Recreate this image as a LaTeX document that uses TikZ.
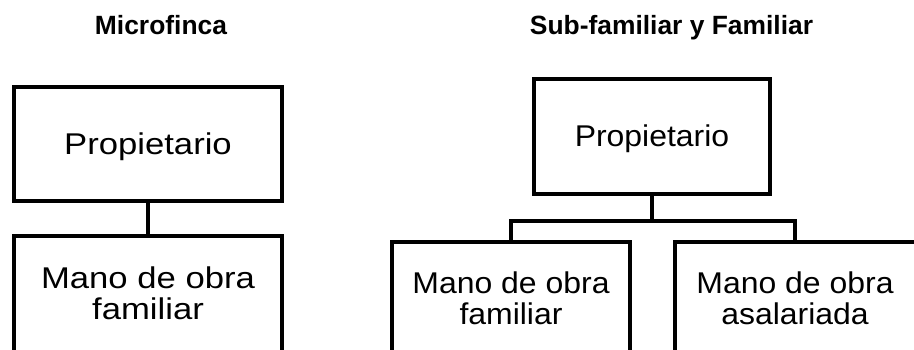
\documentclass[tikz,border=0pt]{standalone}
\usepackage{graphicx}
\usepackage{fontspec}
\setmainfont{Liberation Sans}
\newcommand\lsx[1]{\scalebox{1.155}[1]{#1}}
\newcommand\rsx[1]{\scalebox{1.065}[1]{#1}}
\tikzset{
  box/.style={draw, line width=4pt, inner sep=0pt},
  conn/.style={line width=4pt},
  lab/.style={inner sep=0pt, align=center, font=\fontsize{30}{31}\selectfont},
  ttl/.style={inner sep=0pt, anchor=base, font=\fontsize{26.4}{28}\selectfont\bfseries}
}
\begin{document}
\begin{tikzpicture}[x=1pt,y=-1pt]
\useasboundingbox (0,0) rectangle (914,350);
\clip (0,0) rectangle (914,350);
% titles
\node[ttl] (t1) at (161,34.5) {Microfinca};
\node[ttl] (t2) at (671.5,35) {Sub-familiar y Familiar};
% left chart
\node[box, minimum width=268pt, minimum height=114pt] (lp) at (148,144) {};
\node[lab] (lpt) at (148,146.5) {\lsx{Propietario}};
\node[box, minimum width=268pt, minimum height=140pt] (lf) at (148,306) {};
\node[lab] (lft) at (148,293.5) {\lsx{Mano de obra}\\\lsx{familiar}};
\draw[conn] (lp.south) -- (lf.north);
% right chart
\node[box, minimum width=236pt, minimum height=115pt] (rp) at (652,136.5) {};
\node[lab] (rpt) at (652,138.5) {\rsx{Propietario}};
\node[box, minimum width=238pt, minimum height=140pt] (rf) at (511,312) {};
\node[lab] (rft) at (511,298) {\rsx{Mano de obra}\\\rsx{familiar}};
\node[box, minimum width=256pt, minimum height=140pt] (ra) at (803,312) {};
\node[lab] (rat) at (795,298) {\rsx{Mano de obra}\\\rsx{asalariada}};
\coordinate (raTop) at ([xshift=-8pt]ra.north);
\draw[conn] (rp.south) -- ++(0,25) coordinate (j);
\draw[conn] (rf.north) |- (j) -| (raTop);
\end{tikzpicture}
\end{document}
